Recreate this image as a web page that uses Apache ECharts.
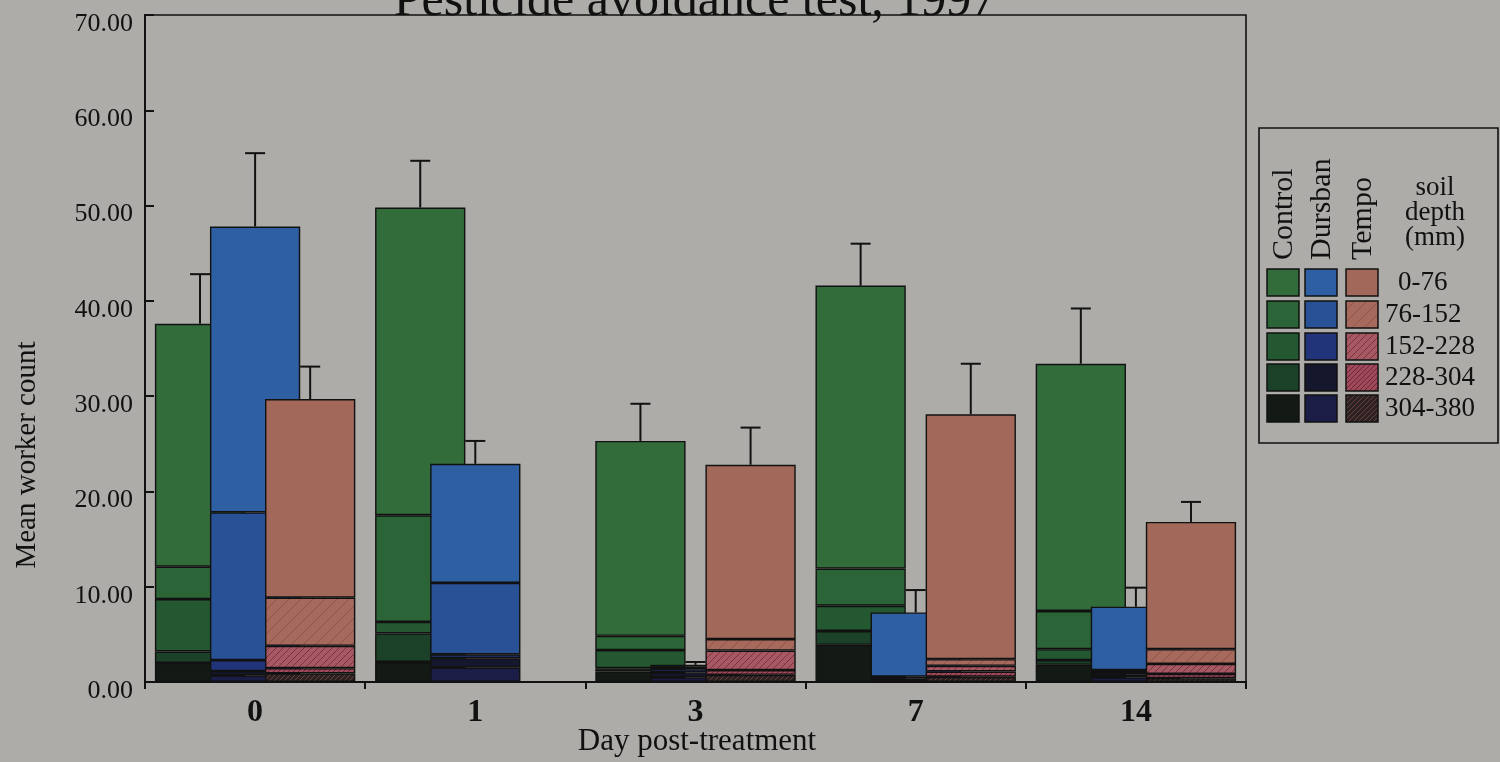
<!DOCTYPE html>
<html>
<head>
<meta charset="utf-8">
<script src="https://cdn.jsdelivr.net/npm/echarts@6/dist/echarts.min.js"></script>
<style>
  html, body { margin: 0; padding: 0; background: #adaca8; }
  #chart { width: 1500px; height: 762px; }
</style>
</head>
<body>
<div id="chart"></div>
<script>
// Categories
const days = ['0', '1', '3', '7', '14'];
const depths = ['0-76', '76-152', '152-228', '228-304', '304-380'];
const yTicks = [0, 10, 20, 30, 40, 50, 60, 70];

// Mean worker count per soil-depth layer (mm), one value per day
const control0_76    = [25.5, 32.3, 20.45, 29.7, 25.95];
const control76_152  = [3.4, 11.2, 1.5, 3.9, 4.0];
const control152_228 = [5.5, 1.2, 1.9, 2.65, 1.15];
const control228_304 = [1.2, 3.0, 0.35, 1.45, 0.5];
const control304_380 = [2.0, 2.1, 1.1, 3.9, 1.8];

const dursban0_76    = [30.0, 12.5, 0.15, 6.75, 6.65];
const dursban76_152  = [15.5, 7.5, 0.3, 0.2, 0.3];
const dursban152_228 = [1.15, 0.4, 0.35, 0.15, 0.2];
const dursban228_304 = [0.45, 1.0, 0.5, 0.1, 0.25];
const dursban304_380 = [0.7, 1.5, 0.5, 0.1, 0.5];

const tempo0_76    = [20.85, null, 18.3, 25.7, 13.35];
const tempo76_152  = [5.05, null, 1.2, 0.7, 1.55];
const tempo152_228 = [2.35, null, 2.05, 0.6, 1.05];
const tempo228_304 = [0.55, null, 0.5, 0.55, 0.45];
const tempo304_380 = [0.9, null, 0.75, 0.55, 0.4];

// Standard error of the total count
const controlErr = [5.2, 4.9, 3.9, 4.4, 5.8];
const dursbanErr = [7.7, 2.4, 0.3, 2.35, 2.0];
const tempoErr   = [3.4, null, 3.9, 5.3, 2.1];

// ---- styling ----
const FONT = "'Liberation Serif', 'Times New Roman', serif";
const BG = '#adaca8';
const INK = '#111111';
const BAR_W = 0.41;     // fraction of category band
const BAR_GAP = -0.39;  // overlap between neighbouring bars
const SLOT = BAR_W * (1 + BAR_GAP); // centre-to-centre spacing in band units

// hatched fill for the Tempo layers
function hatch(base, line, step, width) {
  const c = document.createElement('canvas');
  c.width = step; c.height = step;
  const g = c.getContext('2d');
  g.fillStyle = base; g.fillRect(0, 0, step, step);
  g.strokeStyle = line; g.lineWidth = width;
  g.beginPath();
  g.moveTo(0, step); g.lineTo(step, 0);
  g.moveTo(-step / 2, step / 2); g.lineTo(step / 2, -step / 2);
  g.moveTo(step / 2, step * 1.5); g.lineTo(step * 1.5, step / 2);
  g.stroke();
  return { image: c, repeat: 'repeat' };
}

// colours in depth order: 0-76 ... 304-380
const controlColors = ['#326c3b', '#2b6436', '#235830', '#1b4128', '#131a15'];
const dursbanColors = ['#2d5fa2', '#285196', '#223479', '#15172c', '#1b1d46'];
const tempoColors = [
  '#a2685a',
  hatch('#a6695c', 'rgba(40,20,20,0.2)', 12, 1),
  hatch('#a85862', 'rgba(40,10,20,0.4)', 7, 1),
  hatch('#a2485b', 'rgba(40,10,20,0.5)', 5, 1),
  hatch('#2c2222', 'rgba(120,70,70,0.8)', 5, 1)
];

const treatments = [
  { name: 'Control', layers: [control0_76, control76_152, control152_228, control228_304, control304_380], colors: controlColors, err: controlErr, slot: -1 },
  { name: 'Dursban', layers: [dursban0_76, dursban76_152, dursban152_228, dursban228_304, dursban304_380], colors: dursbanColors, err: dursbanErr, slot: 0 },
  { name: 'Tempo',   layers: [tempo0_76, tempo76_152, tempo152_228, tempo228_304, tempo304_380], colors: tempoColors, err: tempoErr, slot: 1 }
];

const series = [];
treatments.forEach(t => {
  // stack from the deepest layer upward
  for (let k = depths.length - 1; k >= 0; k--) {
    series.push({
      type: 'bar',
      name: t.name + ' ' + depths[k],
      stack: t.name,
      barWidth: (BAR_W * 100) + '%',
      barGap: (BAR_GAP * 100) + '%',
      data: t.layers[k].map(v => (v == null ? '-' : v)),
      itemStyle: { color: t.colors[k], borderColor: INK, borderWidth: 1.4 },
      emphasis: { disabled: true },
      animation: false
    });
  }
  // error bars above the stacked total
  const errData = [];
  days.forEach((d, i) => {
    if (t.err[i] == null) return;
    const total = t.layers.reduce((s, arr) => s + arr[i], 0);
    errData.push([i, total, total + t.err[i]]);
  });
  series.push({
    type: 'custom',
    name: t.name + ' SE',
    data: errData,
    encode: { x: 0, y: [1, 2] },
    animation: false,
    renderItem: (params, api) => {
      const i = api.value(0);
      const p0 = api.coord([i, api.value(1)]);
      const p1 = api.coord([i, api.value(2)]);
      const band = api.size([1, 0])[0];
      const x = p0[0] + band * SLOT * t.slot;
      const st = { stroke: INK, lineWidth: 2 };
      return {
        type: 'group',
        children: [
          { type: 'line', shape: { x1: x, y1: p0[1], x2: x, y2: p1[1] }, style: st },
          { type: 'line', shape: { x1: x - 10, y1: p1[1], x2: x + 10, y2: p1[1] }, style: st }
        ]
      };
    }
  });
});

// legend block drawn as graphics
const legendX = 1259, legendY = 128, legendW = 239, legendH = 315;
const swatchX = [1267, 1305, 1346];
const rowTop = [269, 301, 333, 364, 395];
const graphics = [
  { type: 'rect', shape: { x: legendX, y: legendY, width: legendW, height: legendH },
    style: { fill: BG, stroke: INK, lineWidth: 1.6 }, z: 10 }
];
treatments.forEach((t, j) => {
  graphics.push({
    type: 'text', x: swatchX[j] + 17, y: 260, rotation: Math.PI / 2, z: 11,
    style: { text: t.name, font: '30px ' + FONT, fill: INK, align: 'left', verticalAlign: 'middle' }
  });
  depths.forEach((d, k) => {
    graphics.push({
      type: 'rect', z: 11,
      shape: { x: swatchX[j], y: rowTop[k], width: 32, height: 27 },
      style: { fill: t.colors[k], stroke: INK, lineWidth: 1.5 }
    });
  });
});
['soil', 'depth', '(mm)'].forEach((s, i) => {
  graphics.push({
    type: 'text', x: 1435, y: 188 + i * 25, z: 11,
    style: { text: s, font: '27px ' + FONT, fill: INK, align: 'center', verticalAlign: 'middle' }
  });
});
depths.forEach((d, k) => {
  graphics.push({
    type: 'text', x: k === 0 ? 1398 : 1385, y: rowTop[k] + 14, z: 11,
    style: { text: d, font: '27px ' + FONT, fill: INK, align: 'left', verticalAlign: 'middle' }
  });
});
// title (runs off the top edge)
graphics.push({
  type: 'text', x: 695, y: 27, z: 11,
  style: { text: 'Pesticide avoidance test, 1997', font: '50px ' + FONT, fill: INK, align: 'center', verticalAlign: 'bottom' }
});
// axis titles
graphics.push({
  type: 'text', x: 27, y: 455, rotation: Math.PI / 2, z: 11,
  style: { text: 'Mean worker count', font: '29px ' + FONT, fill: INK, align: 'center', verticalAlign: 'middle' }
});
graphics.push({
  type: 'text', x: 697, y: 742, z: 11,
  style: { text: 'Day post-treatment', font: '31px ' + FONT, fill: INK, align: 'center', verticalAlign: 'middle' }
});

const chart = echarts.init(document.getElementById('chart'), null, { renderer: 'canvas' });
chart.setOption({
  backgroundColor: BG,
  animation: false,
  grid: { left: 145, right: 254, top: 15, bottom: 80, show: true, borderColor: INK, borderWidth: 1.6, backgroundColor: BG },
  xAxis: {
    type: 'category',
    data: days,
    axisLine: { lineStyle: { color: INK, width: 2 } },
    axisTick: { show: true, length: 7, lineStyle: { color: INK, width: 2 } },
    axisLabel: { color: INK, fontFamily: FONT, fontSize: 32, fontWeight: 'bold', margin: 15 },
    splitLine: { show: false }
  },
  yAxis: {
    type: 'value',
    min: yTicks[0],
    max: yTicks[yTicks.length - 1],
    interval: yTicks[1] - yTicks[0],
    axisLine: { show: true, lineStyle: { color: INK, width: 2 } },
    axisTick: { show: true, inside: true, length: 9, lineStyle: { color: INK, width: 2 } },
    axisLabel: { color: INK, fontFamily: FONT, fontSize: 26, margin: 12, verticalAlign: 'top', lineHeight: 18, formatter: v => v.toFixed(2) },
    splitLine: { show: false }
  },
  series: series,
  graphic: graphics
});
</script>
</body>
</html>
